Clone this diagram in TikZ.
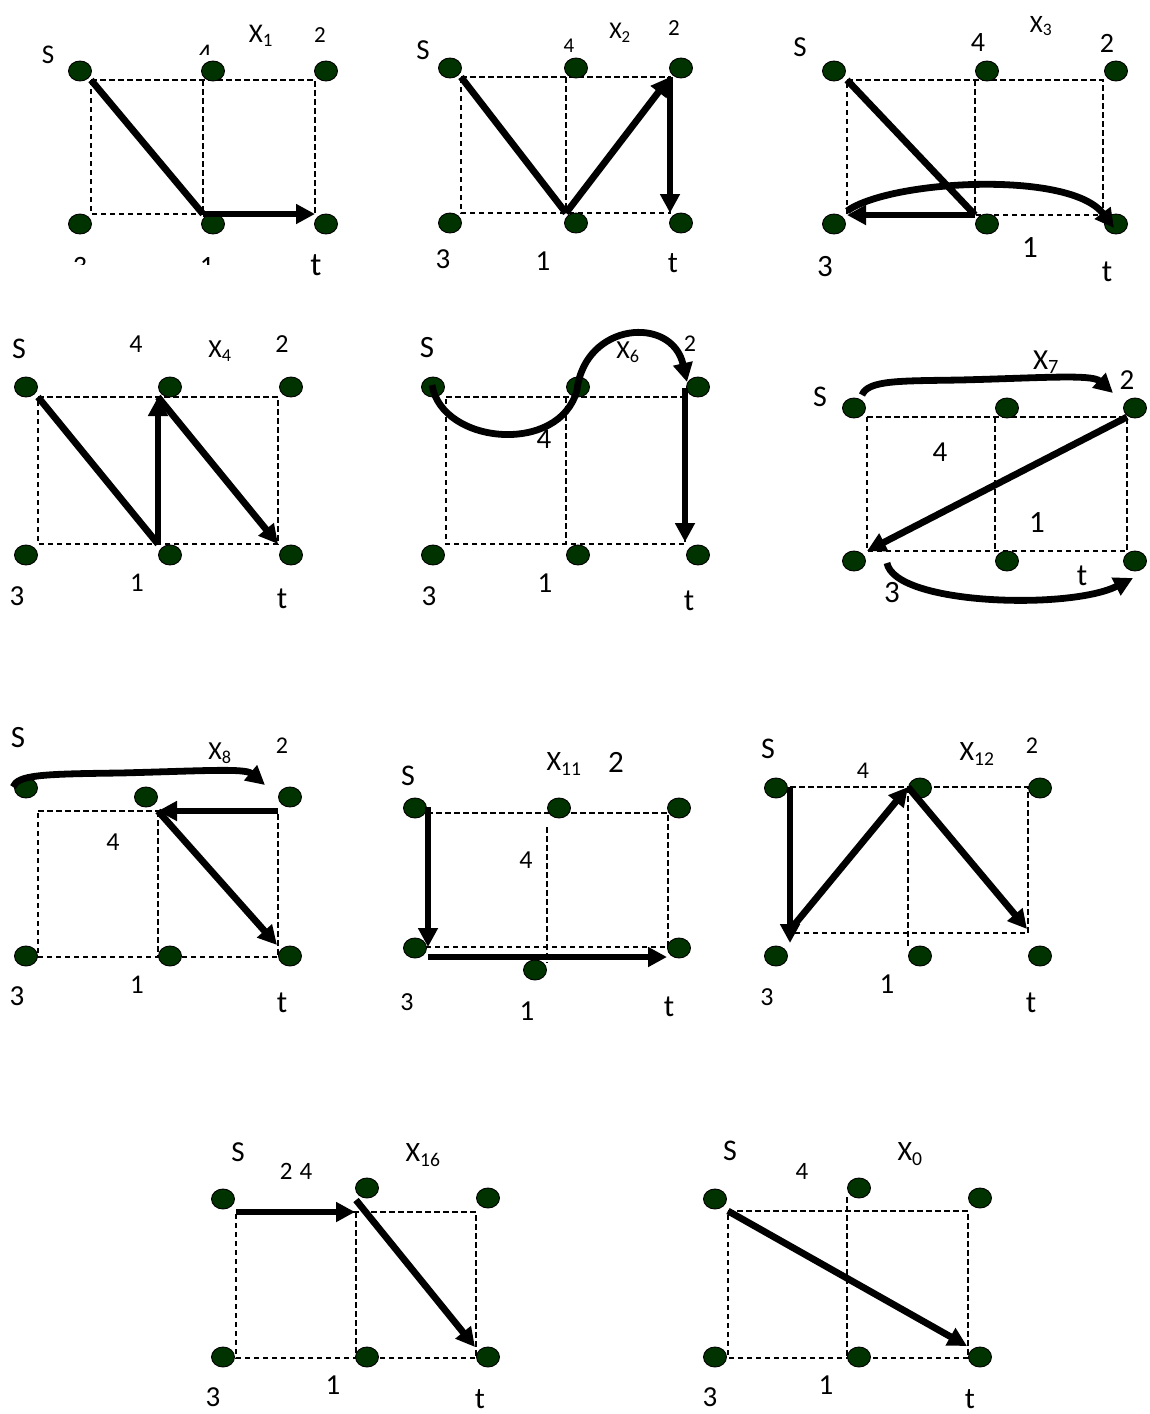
\documentclass[tikz,border=0pt]{standalone}
\usepackage{fontspec}
\setmainfont{Carlito}
\usetikzlibrary{arrows.meta,shapes.geometric}
\definecolor{dotgreen}{RGB}{0,51,0}
\begin{document}
\begin{tikzpicture}[x=1pt,y=-1pt,
  dot/.style={ellipse,minimum width=23pt,minimum height=20pt,inner sep=0pt,fill=dotgreen,draw=black,line width=0.9pt},
  grid/.style={dash pattern=on 5.5pt off 3.5pt,line width=1.3pt},
  thickln/.style={line width=6.8pt},
  arr/.style={line width=6.8pt,-{Triangle[length=19pt,width=19pt]}},
  lab/.style={inner sep=0pt,font=\fontsize{#1}{#1}\selectfont},
  lab/.default=28]
\fill[white] (0,0) rectangle (1149,1414);
\useasboundingbox (0,0) rectangle (1149,1414);

% ================= Panel X1 =================
\coordinate (aTL) at (91,80); \coordinate (aTM) at (203,80); \coordinate (aTR) at (315,80);
\coordinate (aBL) at (91,214); \coordinate (aBM) at (203,214); \coordinate (aBR) at (315,214);
\draw[grid] (aTL) -- (aTR) -- (aBR) -- (aBL) -- cycle (aTM) -- (aBM);
\node[lab=27] (alS) at (48,55) {S};
\begin{scope}
\clip (185,30) rectangle (230,54);
\node[lab=27] (al4) at (205,53.5) {4};
\end{scope}
\node[lab=27] (alX) at (261,36) {X\textsubscript{1}};
\node[lab=23] (al2) at (320,35) {2};
\begin{scope}
\clip (50,240) rectangle (240,264);
\node[lab=28] (al3) at (80,266.7) {3};
\node[lab=28] (al1) at (207,266.7) {1};
\end{scope}
\node[lab=33] (alt) at (316,265) {t};
\node[dot] (aS) at (80,71) {}; \node[dot] (a4) at (213,71) {}; \node[dot] (a2) at (326,71) {};
\node[dot] (a3) at (80,224) {}; \node[dot] (a1) at (213,224) {}; \node[dot] (at) at (326,224) {};
\draw[thickln] (aTL) -- (aBM);
\draw[arr] (aBM) -- (aBR);

% ================= Panel X2 =================
\coordinate (bTL) at (461,77); \coordinate (bTM) at (566,77); \coordinate (bTR) at (670,77);
\coordinate (bBL) at (461,213); \coordinate (bBM) at (566,213); \coordinate (bBR) at (670,213);
\draw[grid] (bTL) -- (bTR) -- (bBR) -- (bBL) -- cycle (bTM) -- (bBM);
\node[lab=29] (blS) at (423,50) {S};
\node[lab=21] (bl4) at (569,46) {4};
\node[lab=24] (blX) at (620,33) {X\textsubscript{2}};
\node[lab=23] (bl2) at (674,28) {2};
\node[lab=29] (bl3) at (443,259) {3};
\node[lab=29] (bl1) at (543,261) {1};
\node[lab=30] (blt) at (673,263) {t};
\node[dot] (bS) at (450,68) {}; \node[dot] (b4) at (576,68) {}; \node[dot] (b2) at (681,68) {};
\node[dot] (b3) at (450,223) {}; \node[dot] (b1) at (576,223) {}; \node[dot] (bt) at (681,223) {};
\draw[thickln] (bTL) -- (bBM);
\draw[arr] (bBM) -- (bTR);
\draw[arr] (bTR) -- (bBR);

% ================= Panel X3 =================
\coordinate (cTL) at (847,80); \coordinate (cTM) at (975,80); \coordinate (cTR) at (1103,80);
\coordinate (cBL) at (847,215); \coordinate (cBM) at (975,215); \coordinate (cBR) at (1103,215);
\draw[grid] (cTL) -- (cTR) -- (cBR) -- (cBL) -- cycle (cTM) -- (cBM);
\node[lab=29] (clS) at (800,47) {S};
\node[lab=28] (cl4) at (978,43) {4};
\node[lab=25] (clX) at (1041,26) {X\textsubscript{3}};
\node[lab=28] (cl2) at (1107,43) {2};
\node[lab=31] (cl1) at (1030,248) {1};
\node[lab=31] (cl3) at (825,267) {3};
\node[lab=31] (clt) at (1107,272) {t};
\node[dot] (cS) at (834,71) {}; \node[dot] (c4) at (987,71) {}; \node[dot] (c2) at (1116,71) {};
\node[dot] (c3) at (834,224) {}; \node[dot] (c1) at (987,224) {}; \node[dot] (ct) at (1116,224) {};
\coordinate (cEnd) at (1114,228);
\coordinate (cStart) at (847,211);
\draw[thickln] (cTL) -- (cBM);
\draw[arr] (cBM) -- (cBL);
\draw[arr] (cStart) .. controls (890,180) and (1070,170) .. (cEnd);

% ================= Panel X4 =================
\coordinate (dTL) at (38,397); \coordinate (dTM) at (158,397); \coordinate (dTR) at (278,397);
\coordinate (dBL) at (38,544); \coordinate (dBM) at (158,544); \coordinate (dBR) at (278,544);
\draw[grid] (dTL) -- (dTR) -- (dBR) -- (dBL) -- cycle (dTM) -- (dBM);
\node[lab=30] (dlS) at (19,349) {S};
\node[lab=26] (dl4) at (136,344) {4};
\node[lab=26] (dlX) at (220,351) {X\textsubscript{4}};
\node[lab=26] (dl2) at (282,344) {2};
\node[lab=29] (dl3) at (17,596) {3};
\node[lab=27] (dl1) at (137,583) {1};
\node[lab=31] (dlt) at (282,599) {t};
\node[dot] (dS) at (26,387) {}; \node[dot] (d4) at (170,387) {}; \node[dot] (d2) at (291,387) {};
\node[dot] (d3) at (26,555) {}; \node[dot] (d1) at (170,555) {}; \node[dot] (dt) at (291,555) {};
\draw[thickln] (dTL) -- (dBM);
\draw[arr] (dBM) -- (dTM);
\draw[arr] (dTM) -- (dBR);

% ================= Panel X6 =================
\coordinate (eTL) at (446,397); \coordinate (eTM) at (566,397); \coordinate (eTR) at (685,397);
\coordinate (eBL) at (446,544); \coordinate (eBM) at (566,544); \coordinate (eBR) at (685,544);
\draw[grid] (eTL) -- (eTR) -- (eBR) -- (eBL) -- cycle (eTM) -- (eBM);
\node[lab=31] (elS) at (427,348) {S};
\node[lab=29] (el4) at (544,439) {4};
\node[lab=26] (elX) at (628,352) {X\textsubscript{6}};
\node[lab=24] (el2) at (690,344) {2};
\node[lab=29] (el3) at (429,596) {3};
\node[lab=29] (el1) at (545,583) {1};
\node[lab=31] (elt) at (689,601) {t};
\node[dot] (eS) at (433,387) {}; \node[dot] (e4) at (578,387) {}; \node[dot] (e2) at (698,387) {};
\node[dot] (e3) at (433,555) {}; \node[dot] (e1) at (578,555) {}; \node[dot] (et) at (698,555) {};
\coordinate (eStart) at (432,385);
\coordinate (eMid) at (577,390);
\coordinate (eEnd) at (687,382);
\coordinate (eTop) at (685,388);
\coordinate (eBot) at (685,542);
\draw[arr] (eStart) .. controls (442,445) and (560,455) .. (eMid)
  .. controls (585,322) and (672,315) .. (eEnd);
\draw[arr] (eTop) -- (eBot);

% ================= Panel X7 =================
\coordinate (fTL) at (867,417); \coordinate (fTM) at (995,417); \coordinate (fTR) at (1127,417);
\coordinate (fBL) at (867,551); \coordinate (fBM) at (995,551); \coordinate (fBR) at (1127,551);
\draw[grid] (fTL) -- (fTR) -- (fBR) -- (fBL) -- cycle (fTM) -- (fBM);
\node[lab=30] (flS) at (820,397) {S};
\node[lab=29] (flX) at (1046,362) {X\textsubscript{7}};
\node[lab=29] (fl2) at (1127,380) {2};
\node[lab=29] (fl4) at (940,452) {4};
\node[lab=31] (fl1) at (1037,523) {1};
\node[lab=31] (flt) at (1082,576) {t};
\node[lab=31] (fl3) at (892,593) {3};
\node[dot] (fS) at (854,408) {}; \node[dot] (f4) at (1007,408) {}; \node[dot] (f2) at (1135,408) {};
\node[dot] (f3) at (854,561) {}; \node[dot] (f1) at (1007,561) {}; \node[dot] (ft) at (1135,561) {};
\coordinate (fA) at (862,395); \coordinate (fB) at (1113,393);
\coordinate (fC) at (887,563); \coordinate (fD) at (1133,578);
\draw[arr] (fA) .. controls (868,380) and (900,381) .. (960,380)
  .. controls (1040,378) and (1092,374) .. (fB);
\draw[arr] (fTR) -- (fBL);
\draw[arr] (fC) .. controls (895,605) and (1070,610) .. (fD);

% ================= Panel X8 =================
\coordinate (gTL) at (38,811); \coordinate (gTM) at (158,811); \coordinate (gTR) at (278,811);
\coordinate (gBL) at (38,957); \coordinate (gBM) at (158,957); \coordinate (gBR) at (278,957);
\draw[grid] (gTL) -- (gTR) -- (gBR) -- (gBL) -- cycle (gTM) -- (gBM);
\node[lab=31] (glS) at (18,738) {S};
\node[lab=26] (glX) at (220,753) {X\textsubscript{8}};
\node[lab=24] (gl2) at (282,746) {2};
\node[lab=26] (gl4) at (113,842) {4};
\node[lab=29] (gl3) at (17,996) {3};
\node[lab=27] (gl1) at (137,985) {1};
\node[lab=31] (glt) at (282,1003) {t};
\node[dot] (gS) at (26,788) {}; \node[dot] (g4) at (146,797) {}; \node[dot] (g2) at (290,797) {};
\node[dot] (g3) at (26,956) {}; \node[dot] (g1) at (170,956) {}; \node[dot] (gt) at (290,956) {};
\coordinate (gA) at (13,787); \coordinate (gB) at (265,785);
\coordinate (gEnd) at (277,945);
\draw[arr] (gA) .. controls (18,775) and (40,774) .. (120,773)
  .. controls (200,771) and (245,768) .. (gB);
\draw[arr] (gTR) -- (gTM);
\draw[arr] (gTM) -- (gEnd);

% ================= Panel X11 =================
\coordinate (hTL) at (427,813); \coordinate (hTM) at (547,827); \coordinate (hTR) at (668,813);
\coordinate (hBL) at (427,947); \coordinate (hBM) at (547,963); \coordinate (hBR) at (668,947);
\draw[grid] (hTL) -- (hTR) -- (hBR) -- (hBL) -- cycle (hTM) -- (hBM);
\node[lab=30] (hlS) at (408,776) {S};
\node[lab=28] (hlX) at (564,764) {X\textsubscript{11}};
\node[lab=31] (hl2) at (616,762) {2};
\node[lab=26] (hl4) at (526,860) {4};
\node[lab=26] (hl3) at (407,1002) {3};
\node[lab=29] (hl1) at (527,1011) {1};
\node[lab=31] (hlt) at (669,1007) {t};
\node[dot] (hS) at (415,808) {}; \node[dot] (h4) at (559,808) {}; \node[dot] (h2) at (679,808) {};
\node[dot] (h3) at (415,948) {}; \node[dot] (h1) at (535,970) {}; \node[dot] (ht) at (679,948) {};
\coordinate (hA) at (428,807); \coordinate (hB) at (428,947);
\coordinate (hC) at (428,957); \coordinate (hD) at (667,957);
\draw[arr] (hA) -- (hB);
\draw[arr] (hC) -- (hD);

% ================= Panel X12 =================
\coordinate (iTL) at (790,787); \coordinate (iTM) at (908,787); \coordinate (iTR) at (1028,787);
\coordinate (iBL) at (790,933); \coordinate (iBM) at (908,933); \coordinate (iBR) at (1028,933);
\coordinate (iBM2) at (908,948);
\draw[grid] (iTL) -- (iTR) -- (iBR) -- (iBL) -- cycle (iTM) -- (iBM2);
\node[lab=30] (ilS) at (768,749) {S};
\node[lab=24] (il4) at (863,771) {4};
\node[lab=28] (ilX) at (977,754) {X\textsubscript{12}};
\node[lab=24] (il2) at (1032,746) {2};
\node[lab=26] (il3) at (767,997) {3};
\node[lab=29] (il1) at (887,984) {1};
\node[lab=31] (ilt) at (1031,1003) {t};
\node[dot] (iS) at (776,788) {}; \node[dot] (i4) at (920,788) {}; \node[dot] (i2) at (1040,788) {};
\node[dot] (i3) at (776,956) {}; \node[dot] (i1) at (920,956) {}; \node[dot] (it) at (1040,956) {};
\coordinate (iA) at (790,943); \coordinate (iB) at (790,930); \coordinate (iC) at (1027,929);
\draw[arr] (iTL) -- (iA);
\draw[arr] (iB) -- (iTM);
\draw[arr] (iTM) -- (iC);

% ================= Panel X16 =================
\coordinate (jTL) at (236,1212); \coordinate (jTM) at (356,1212); \coordinate (jTR) at (476,1212);
\coordinate (jBL) at (236,1358); \coordinate (jBM) at (356,1358); \coordinate (jBR) at (476,1358);
\draw[grid] (jTL) -- (jTR) -- (jBR) -- (jBL) -- cycle (jTM) -- (jBM);
\node[lab=29] (jlS) at (238,1152) {S};
\node[lab=25] (jl24) at (296,1171) {2\hspace{7pt}4};
\node[lab=28] (jlX) at (423,1155) {X\textsubscript{16}};
\node[lab=29] (jl3) at (213,1397) {3};
\node[lab=29] (jl1) at (333,1385) {1};
\node[lab=30] (jlt) at (480,1399) {t};
\node[dot] (jS) at (223,1199) {}; \node[dot] (j4) at (367,1188) {}; \node[dot] (j2) at (488,1198) {};
\node[dot] (j3) at (223,1357) {}; \node[dot] (j1) at (367,1357) {}; \node[dot] (jt) at (488,1357) {};
\coordinate (jA) at (355,1212); \coordinate (jB) at (356,1200); \coordinate (jC) at (475,1347);
\draw[arr] (jTL) -- (jA);
\draw[arr] (jB) -- (jC);

% ================= Panel X0 =================
\coordinate (kTL) at (728,1211); \coordinate (kTM) at (847,1197); \coordinate (kTR) at (968,1211);
\coordinate (kBL) at (728,1358); \coordinate (kBM) at (847,1358); \coordinate (kBR) at (968,1358);
\draw[grid] (kTL) -- (kTR) -- (kBR) -- (kBL) -- cycle (kTM) -- (kBM);
\node[lab=30] (klS) at (730,1151) {S};
\node[lab=25] (kl4) at (802,1171) {4};
\node[lab=28] (klX) at (910,1154) {X\textsubscript{0}};
\node[lab=29] (kl3) at (710,1397) {3};
\node[lab=29] (kl1) at (826,1385) {1};
\node[lab=30] (klt) at (970,1399) {t};
\node[dot] (kS) at (715,1199) {}; \node[dot] (k4) at (859,1188) {}; \node[dot] (k2) at (980,1198) {};
\node[dot] (k3) at (715,1357) {}; \node[dot] (k1) at (859,1357) {}; \node[dot] (kt) at (980,1357) {};
\coordinate (kEnd) at (967,1346);
\draw[arr] (kTL) -- (kEnd);
\end{tikzpicture}
\end{document}
